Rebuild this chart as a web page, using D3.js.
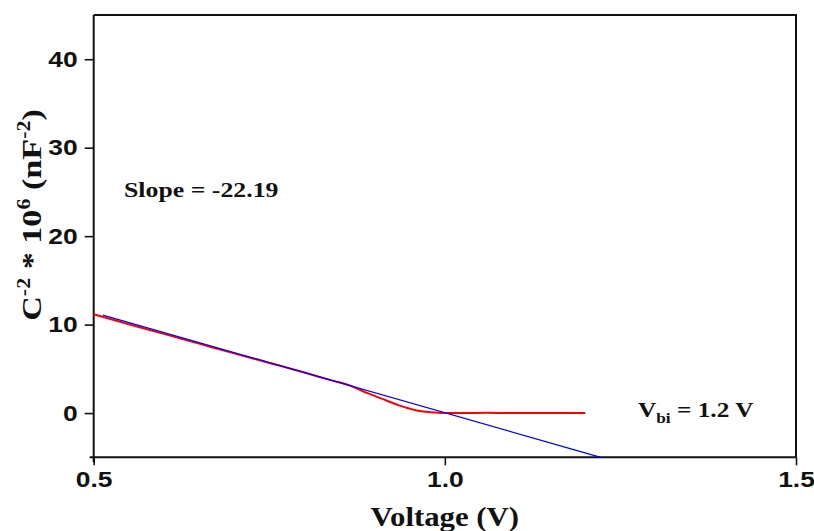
<!DOCTYPE html>
<html>
<head>
<meta charset="utf-8">
<script src="https://cdn.jsdelivr.net/npm/d3@7"></script>
<style>
  body { margin: 0; background: #fff; }
  svg { display: block; }
  .tick text { font-family: "Liberation Sans", Arial, sans-serif; font-weight: bold; fill: #111; }
  .ttl { font-family: "Liberation Serif", "Times New Roman", serif; font-weight: bold; fill: #111; }
</style>
</head>
<body>
<svg id="chart" width="814" height="531"></svg>
<script>
// measured C^-2 curve (red)
var voltage = [0.50, 0.55, 0.60, 0.65, 0.70, 0.75, 0.80, 0.836, 0.865, 0.89, 0.91, 0.935, 0.96, 0.98, 1.00, 1.03, 1.06, 1.09, 1.15, 1.20];
var invCap2 = [11.17, 10.05, 8.95, 7.85, 6.75, 5.67, 4.58, 3.75, 3.10, 2.25, 1.63, 0.87, 0.30, 0.08, 0.0, 0.0, 0.04, 0.0, 0.0, 0.0];

// linear fit (blue)
var fitX = [0.513, 1.222];
var fitY = [11.08, -5.0];

var xMajor = [0.5, 1.0, 1.5];
var xMinor = [0.75, 1.25];
var yMajor = [0, 10, 20, 30, 40];
var yMinor = [-5, 5, 15, 25, 35];

var W = 814, H = 531;
var m = { left: 93.7, right: 18, top: 15, bottom: 73.7 };

var svg = d3.select('#chart');
var x = d3.scaleLinear().domain([0.5, 1.5]).range([m.left, W - m.right]);
var y = d3.scaleLinear().domain([-5, 45]).range([H - m.bottom, m.top]);

// the original text is a bit wider than it is tall
function stretch(sel, sx) {
    sel.each(function(){
        var t = d3.select(this);
        var tx = +t.attr('x') || 0, ty = +t.attr('y') || 0;
        t.attr('x', 0).attr('y', 0)
         .attr('transform', `translate(${tx},${ty}) scale(${sx},1)`);
    });
}

// frame: top and right border
svg.append('path')
    .attr('d', `M${x(0.5)},${y(45)}H${x(1.5)}V${y(-5)}`)
    .attr('fill', 'none').attr('stroke', '#111').attr('stroke-width', 2);

// x axis
var gx = svg.append('g').attr('transform', `translate(0,${y(-5)})`);
gx.call(d3.axisBottom(x).tickValues(xMinor).tickSize(4).tickFormat(''));
gx.call(d3.axisBottom(x).tickValues(xMajor).tickSize(8).tickPadding(6).tickFormat(d3.format('.1f')));
gx.selectAll('.domain').remove();

// y axis
var gy = svg.append('g').attr('transform', `translate(${x(0.5)},0)`);
gy.call(d3.axisLeft(y).tickValues(yMinor).tickSize(4).tickFormat(''));
gy.call(d3.axisLeft(y).tickValues(yMajor).tickSize(9).tickPadding(7).tickFormat(d3.format('d')));
gy.selectAll('.domain').remove();

svg.selectAll('.tick line').attr('stroke', '#111').attr('stroke-width', 1.6);
svg.selectAll('.tick text').style('font-size', '22px');
stretch(svg.selectAll('.tick text'), 1.2);

svg.append('line')
    .attr('x1', x(0.5) - 4).attr('x2', x(1.5))
    .attr('y1', y(-5)).attr('y2', y(-5))
    .attr('stroke', '#111').attr('stroke-width', 2);
svg.append('line')
    .attr('x1', x(0.5)).attr('x2', x(0.5))
    .attr('y1', y(45)).attr('y2', y(-5) + 5)
    .attr('stroke', '#111').attr('stroke-width', 2);

// data lines
var red = d3.line().x((d, i) => x(voltage[i])).y(d => y(d)).curve(d3.curveMonotoneX);
svg.append('path').datum(invCap2)
    .attr('d', red).attr('fill', 'none').attr('stroke', '#ff0000').attr('stroke-width', 2);

var blue = d3.line().x((d, i) => x(fitX[i])).y(d => y(d));
svg.append('path').datum(fitY)
    .attr('d', blue).attr('fill', 'none').attr('stroke', '#0000ff').attr('stroke-width', 1.2);

// titles
svg.append('text').attr('class', 'ttl')
    .attr('text-anchor', 'middle').style('font-size', '28px')
    .attr('transform', `translate(${(x(0.5) + x(1.5)) / 2},526) scale(1.1,1)`)
    .text('Voltage (V)');

var yt = svg.append('text').attr('class', 'ttl')
    .attr('transform', 'translate(41,215) rotate(-90) scale(1.22,1)')
    .attr('text-anchor', 'middle').style('font-size', '28px');
yt.append('tspan').text('C');
yt.append('tspan').attr('dy', -11).style('font-size', '18px').text('-2');
yt.append('tspan').attr('dy', 11).text(' * 10');
yt.append('tspan').attr('dy', -11).style('font-size', '18px').text('6');
yt.append('tspan').attr('dy', 11).text(' (nF');
yt.append('tspan').attr('dy', -11).style('font-size', '18px').text('-2');
yt.append('tspan').attr('dy', 11).text(')');

svg.append('text').attr('class', 'ttl')
    .attr('transform', 'translate(124,197) scale(1.29,1)').style('font-size', '20px')
    .text('Slope = -22.19');

var vb = svg.append('text').attr('class', 'ttl')
    .attr('transform', 'translate(638,417) scale(1.15,1)').style('font-size', '22px');
vb.append('tspan').text('V');
vb.append('tspan').attr('dy', 6).style('font-size', '15px').text('bi');
vb.append('tspan').attr('dy', -6).text(' = 1.2 V');
</script>
</body>
</html>
